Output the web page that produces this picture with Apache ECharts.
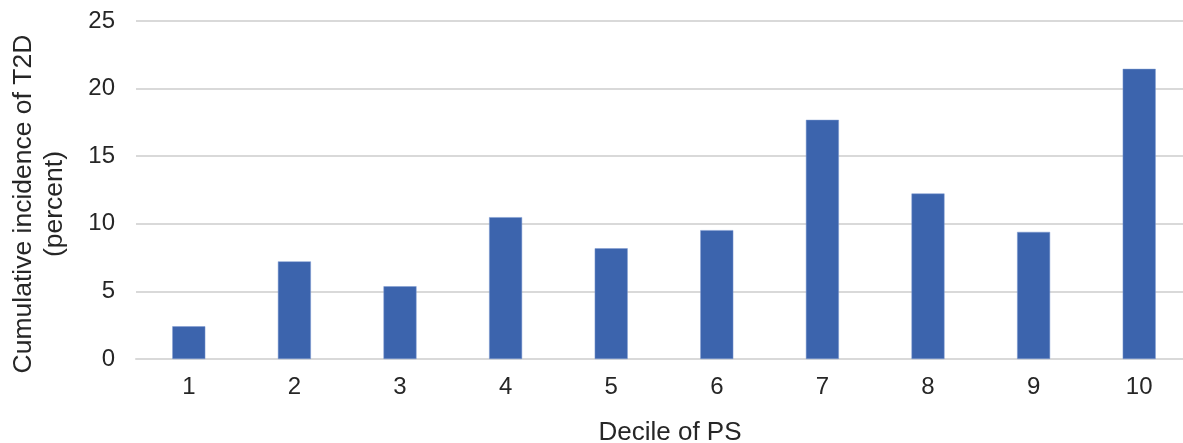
<!DOCTYPE html>
<html><head><meta charset="utf-8">
<script src="https://cdn.jsdelivr.net/npm/echarts@6/dist/echarts.min.js"></script>
<style>html,body{margin:0;padding:0;background:#fff}#c{width:1183px;height:443px}</style>
</head><body><div id="c"></div>
<script>
var categories = ['1','2','3','4','5','6','7','8','9','10'];
var values = [2.42, 7.22, 5.38, 10.49, 8.19, 9.53, 17.69, 12.24, 9.40, 21.46];
var yTicks = [0, 5, 10, 15, 20, 25];
var xTitle = 'Decile of PS';
var yTitle = 'Cumulative incidence of T2D\n(percent)';

var chart = echarts.init(document.getElementById('c'), null, {renderer:'canvas'});
var font = 'Liberation Sans, Arial, sans-serif';
chart.setOption({
  animation:false,
  grid:{left:136, top:21, width:1056, height:338, containLabel:false, outerBoundsMode:'none'},
  xAxis:{
    type:'category', data:categories,
    axisLine:{lineStyle:{color:'#d9d9d9', width:2}},
    axisTick:{show:false},
    axisLabel:{color:'#262626', fontSize:24, fontFamily:font, margin:16},
    name:xTitle, nameLocation:'middle', nameGap:61,
    nameTextStyle:{color:'#262626', fontSize:26, fontFamily:font, padding:[0,0,0,12]}
  },
  yAxis:{
    type:'value', min:yTicks[0], max:yTicks[yTicks.length-1], interval:5,
    axisLine:{show:false}, axisTick:{show:false},
    splitLine:{lineStyle:{color:'#d9d9d9', width:2}},
    axisLabel:{color:'#262626', fontSize:24, fontFamily:font, margin:21},
    name:yTitle, nameLocation:'middle', nameGap:66, nameRotate:90,
    nameTextStyle:{color:'#262626', fontSize:26.5, fontFamily:font, lineHeight:31, align:'center', padding:[0,28,0,0]}
  },
  series:[{
    type:'bar', data:values, barWidth:33,
    itemStyle:{color:'#3c64ad', borderColor:'#7f9bd0', borderWidth:0.5}
  }]
});
</script></body></html>
